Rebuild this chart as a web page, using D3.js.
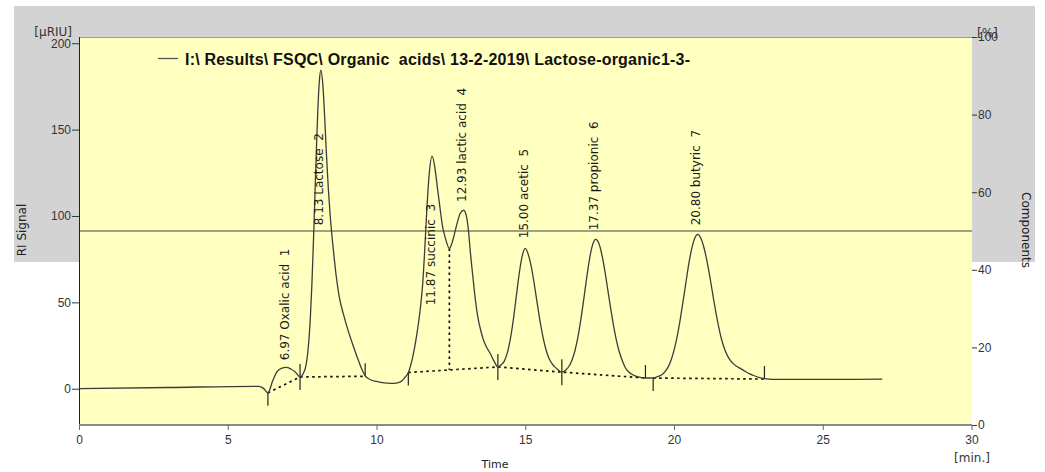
<!DOCTYPE html>
<html>
<head>
<meta charset="utf-8">
<script src="https://cdn.jsdelivr.net/npm/d3@7"></script>
<style>
  body { margin: 0; background: #fff; }
  svg { display: block; font-family: "DejaVu Sans", sans-serif; }
  .tick text { font-size: 12px; fill: #333; }
</style>
</head>
<body>
<svg id="chart" width="1045" height="472"></svg>
<script>
// chromatogram trace (time in min, signal in µRIU)
const traceTime = [
  0, 3, 6.05, 6.2, 6.35, 6.5, 6.65, 6.8, 6.97, 7.12, 7.27, 7.43,
  7.53, 7.63, 7.68, 7.73, 7.78, 7.83, 7.88, 7.93, 7.98, 8.03, 8.08, 8.13,
  8.2, 8.25, 8.31, 8.38, 8.44, 8.5, 8.57, 8.64, 8.75, 8.89, 9.05, 9.23,
  9.4, 9.5, 9.62, 9.8, 10.0, 10.2, 10.5, 10.7, 10.85, 10.95, 11.07,
  11.2, 11.36, 11.47, 11.55, 11.62, 11.69, 11.77, 11.87, 11.97, 12.05,
  12.14, 12.22, 12.31, 12.45, 12.55, 12.65, 12.73, 12.81, 12.93,
  13.02, 13.1, 13.15, 13.22, 13.3, 13.4, 13.5, 13.6, 13.7, 13.82, 13.95, 14.08,
  14.2, 14.3, 14.4, 14.5, 14.6, 14.7, 14.8, 14.9, 15.0,
  15.1, 15.2, 15.3, 15.4, 15.5, 15.6, 15.7, 15.8, 15.9, 16.0, 16.1, 16.23,
  16.37, 16.47, 16.57, 16.67, 16.77, 16.87, 16.97, 17.07, 17.17, 17.27, 17.37,
  17.47, 17.57, 17.67, 17.77, 17.87, 17.97, 18.07, 18.17, 18.27, 18.37, 18.47,
  18.57, 18.67, 18.8, 18.95, 19.15, 19.3,
  19.4, 19.5, 19.6, 19.7, 19.8, 19.9, 20.0, 20.1, 20.2, 20.3, 20.4, 20.5,
  20.6, 20.7, 20.8, 20.9, 21.0, 21.1, 21.2, 21.3, 21.4, 21.5, 21.6, 21.7,
  21.8, 21.9, 22.0, 22.1, 22.23, 22.4, 22.55, 22.7, 22.85, 23.04, 23.5, 25, 27
];
const traceSignal = [
  0, 0.7, 1.4, 0.2, -2.4, 4, 9.7, 11.8, 12.3, 11.4, 9.7, 6.8,
  8.6, 13.5, 19.4, 28.6, 42.4, 61.2, 84.9, 111.6, 138.7, 162.2, 178.3, 184.4,
  175, 160, 138, 116, 101, 89, 77, 66, 53, 43, 33.5, 24.2,
  16, 11.5, 7.5, 5.2, 4.2, 3.5, 3.1, 3.4, 4.5, 6.5, 9.4,
  17, 32, 46, 60, 80, 103, 124, 134.6, 127, 116,
  104, 94, 87.5, 81.2, 85, 91.7, 97, 101.4, 103.3,
  100, 90, 80, 68, 55, 42, 34, 28, 24, 20.5, 16, 12.6,
  14, 16.1, 20.9, 28.8, 40, 53.6, 67, 77, 81.3,
  77.8, 70.9, 60.9, 49.7, 38.8, 29.6, 22.4, 17.5, 14.5, 12.5, 11, 9.6,
  11, 13, 16.5, 22, 29.8, 40.1, 52.2, 64.8, 76, 83.7, 86.5,
  84.3, 78.1, 68.8, 57.8, 46.6, 36.3, 27.6, 20.8, 15.9, 12, 9.8,
  8.5, 7.6, 6.9, 6.3, 6.2, 6.3,
  6.7, 7.3, 8.2, 9.9, 12.5, 16.5, 22.2, 29.7, 39.1, 50.1, 61.4, 72.5,
  81.4, 87.3, 89.4, 87.2, 82.2, 74.6, 65.3, 55, 44.9, 36, 28.5, 23,
  19, 16.3, 14.4, 13, 11.8, 10, 8.6, 7.5, 6.6, 5.9, 5.4, 5.4, 5.5
];

// integrated peaks
const peakTimes = [6.97, 8.13, 11.87, 12.93, 15.00, 17.37, 20.80];
const peakNames = ["Oxalic acid", "Lactose", "succinic", "lactic acid", "acetic", "propionic", "butyric"];
const peakLabelBase = [16.5, 94.6, 48.3, 108.1, 87.1, 91.7, 94.6];

// dotted baselines under the peaks
const baselineSegments = [
  [[6.35, -2.4], [7.43, 6.8], [9.62, 7.2]],
  [[11.07, 9.4], [14.08, 12.6], [16.23, 9.6], [19.04, 6.2]],
  [[19.3, 6.2], [23.04, 5.6]]
];
const dropTime = 12.45;

// peak start / end marks
const markerTime = [6.35, 7.43, 9.62, 11.07, 14.08, 16.23, 19.04, 19.3, 23.04];
const markerSignal = [-2.4, 6.8, 7.2, 9.4, 12.6, 9.6, 6.2, 6.2, 5.6];
const markerDir = ["down", "both", "up", "down", "both", "both", "up", "down", "up"];

// composition line (right axis, %)
const componentLevel = 50;

const xTicks = [0, 5, 10, 15, 20, 25, 30];
const yTicks = [0, 50, 100, 150, 200];
const pctTicks = [0, 20, 40, 60, 80, 100];

const legendText = "I:\\ Results\\ FSQC\\ Organic  acids\\ 13-2-2019\\ Lactose-organic1-3-";

/** Class drawing the chromatogram */
class Chromatogram {
  constructor() {
    this.svg = d3.select("#chart");
    this.left = 79;
    this.right = 971.5;
    this.top = 37;
    this.bottom = 425;

    this.x = d3.scaleLinear().domain([0, 30]).range([this.left, this.right]);
    this.y = d3.scaleLinear().domain([-21, 203.6]).range([this.bottom, this.top]);
    this.pct = d3.scaleLinear().domain([0, 100]).range([this.bottom, this.top]);
  }

  drawBackground() {
    // grey panel behind the upper part
    this.svg.append("rect")
      .attr("x", 14).attr("y", 6)
      .attr("width", 1021).attr("height", 256)
      .attr("fill", "#d3d3d3");

    this.svg.append("rect")
      .attr("x", this.left).attr("y", this.top)
      .attr("width", 972 - this.left).attr("height", this.bottom - this.top)
      .attr("fill", "#ffffc0");

    this.svg.append("line")
      .attr("x1", this.left).attr("x2", 972)
      .attr("y1", this.top + 0.5).attr("y2", this.top + 0.5)
      .attr("stroke", "#9a9a9a");
  }

  drawAxes() {
    let left = this.svg.append("g")
      .attr("transform", `translate(${this.left},0)`)
      .call(d3.axisLeft(this.y).tickValues(yTicks).tickSize(7).tickPadding(1));
    left.select(".domain").attr("stroke", "#222").attr("d", `M0.5,${this.top}V${this.bottom}`);
    left.selectAll(".tick line").attr("stroke", "#333");

    let right = this.svg.append("g")
      .attr("transform", `translate(972,0)`)
      .call(d3.axisRight(this.pct).tickValues(pctTicks).tickSize(5).tickPadding(1));
    right.select(".domain").remove();
    right.selectAll(".tick line").attr("stroke", "#333");

    let bottom = this.svg.append("g")
      .attr("transform", `translate(0,${this.bottom})`)
      .call(d3.axisBottom(this.x).tickValues(xTicks).tickSize(5).tickPadding(5));
    bottom.select(".domain").attr("stroke", "#8a8a8a").attr("stroke-width", 2)
      .attr("d", `M${this.left},0H972`);
    bottom.selectAll(".tick line").attr("stroke", "#666");

    // axis titles
    this.svg.append("text")
      .attr("x", 72).attr("y", 36)
      .attr("text-anchor", "end")
      .style("font-size", "12px").attr("fill", "#333")
      .text("[μRIU]");

    this.svg.append("text")
      .attr("x", 977).attr("y", 37)
      .style("font-size", "12px").attr("fill", "#333")
      .text("[%]");

    this.svg.append("text")
      .attr("transform", "translate(22,230) rotate(-90)")
      .attr("dy", "0.35em")
      .attr("text-anchor", "middle")
      .style("font-size", "12px").attr("fill", "#222")
      .text("RI Signal");

    this.svg.append("text")
      .attr("transform", "translate(1026,230) rotate(90)")
      .attr("dy", "0.35em")
      .attr("text-anchor", "middle")
      .style("font-size", "12px").attr("fill", "#222")
      .text("Components");

    this.svg.append("text")
      .attr("x", 495).attr("y", 468)
      .attr("text-anchor", "middle")
      .style("font-size", "11px").attr("fill", "#222")
      .text("Time");

    this.svg.append("text")
      .attr("x", 972).attr("y", 462)
      .attr("text-anchor", "middle")
      .style("font-size", "12px").attr("fill", "#333")
      .text("[min.]");
  }

  drawComponents() {
    this.svg.append("line")
      .attr("x1", this.left).attr("x2", 972)
      .attr("y1", this.pct(componentLevel)).attr("y2", this.pct(componentLevel))
      .attr("stroke", "#444")
      .attr("stroke-width", 1.2);
  }

  drawBaselines() {
    let line = d3.line()
      .x(d => this.x(d[0]))
      .y(d => this.y(d[1]));

    this.svg.append("g")
      .selectAll("path.base")
      .data(baselineSegments)
      .join("path")
      .classed("base", true)
      .attr("d", line)
      .attr("fill", "none")
      .attr("stroke", "#111")
      .attr("stroke-width", 1.7)
      .attr("stroke-dasharray", "2.5,3.5");

    // drop line between the succinic and lactic acid peaks
    let i = traceTime.indexOf(dropTime);
    let seg = baselineSegments[1];
    let baseAt = d3.scaleLinear().domain([seg[0][0], seg[1][0]]).range([seg[0][1], seg[1][1]]);
    this.svg.append("line")
      .attr("x1", this.x(dropTime)).attr("x2", this.x(dropTime))
      .attr("y1", this.y(traceSignal[i])).attr("y2", this.y(baseAt(dropTime)))
      .attr("stroke", "#111")
      .attr("stroke-width", 1.7)
      .attr("stroke-dasharray", "2.5,3.5");

    // start / end marks
    let len = 13;
    this.svg.append("g")
      .selectAll("line")
      .data(markerTime.map((t, k) => ({ t: t, v: markerSignal[k], dir: markerDir[k] })))
      .join("line")
      .attr("x1", d => this.x(d.t)).attr("x2", d => this.x(d.t))
      .attr("y1", d => this.y(d.v) - (d.dir === "down" ? 0 : len))
      .attr("y2", d => this.y(d.v) + (d.dir === "up" ? 0 : len))
      .attr("stroke", "#222")
      .attr("stroke-width", 1.2);
  }

  drawTrace() {
    let line = d3.line()
      .x(d => this.x(d[0]))
      .y(d => this.y(d[1]))
      .curve(d3.curveMonotoneX);

    this.svg.append("path")
      .datum(traceTime.map((t, k) => [t, traceSignal[k]]))
      .attr("d", line)
      .attr("fill", "none")
      .attr("stroke", "#3c3c3c")
      .attr("stroke-width", 1.3);
  }

  drawLabels() {
    this.svg.append("g")
      .selectAll("text")
      .data(peakTimes)
      .join("text")
      .attr("transform", (t, k) => `translate(${this.x(t)},${this.y(peakLabelBase[k])}) rotate(-90)`)
      .attr("dy", "0.2em")
      .style("font-size", "12px")
      .style("white-space", "pre")
      .attr("fill", "#1a1a1a")
      .text((t, k) => `${t.toFixed(2)} ${peakNames[k]}  ${k + 1}`);
  }

  drawLegend() {
    this.svg.append("line")
      .attr("x1", 158).attr("x2", 178)
      .attr("y1", 58.5).attr("y2", 58.5)
      .attr("stroke", "#555")
      .attr("stroke-width", 1.3);

    this.svg.append("text")
      .attr("x", 185).attr("y", 65)
      .attr("textLength", 505)
      .attr("lengthAdjust", "spacing")
      .style("font-family", "'Liberation Sans', Arial, sans-serif")
      .style("font-size", "16px")
      .style("font-weight", "bold")
      .style("white-space", "pre")
      .attr("fill", "#111")
      .text(legendText);
  }
}

let chart = new Chromatogram();
chart.drawBackground();
chart.drawComponents();
chart.drawBaselines();
chart.drawTrace();
chart.drawAxes();
chart.drawLabels();
chart.drawLegend();
</script>
</body>
</html>
